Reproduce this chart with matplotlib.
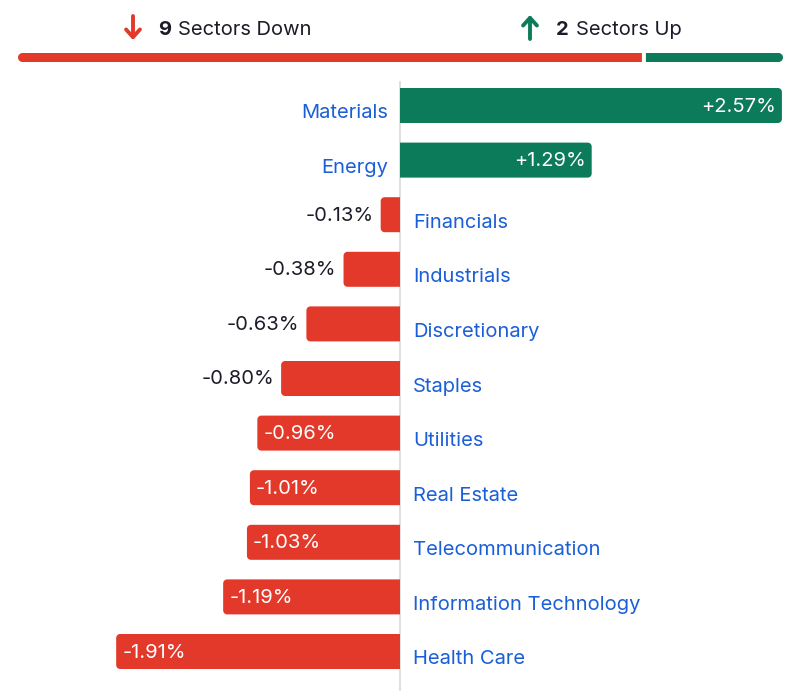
import matplotlib
matplotlib.use("Agg")
import numpy as np
import matplotlib.pyplot as plt
from matplotlib.patches import PathPatch
from matplotlib.path import Path

plt.rcParams['font.family'] = ['Inter', 'DejaVu Sans']

sectors = ["Materials", "Energy", "Financials", "Industrials", "Discretionary",
           "Staples", "Utilities", "Real Estate", "Telecommunication",
           "Information Technology", "Health Care"]
changes = [2.57, 1.29, -0.13, -0.38, -0.63, -0.80, -0.96, -1.01, -1.03, -1.19, -1.91]
n_down = sum(1 for v in changes if v < 0)
n_up = sum(1 for v in changes if v > 0)

RED = "#e3392a"
GREEN = "#0b7b5a"
BLUE = "#1b5fd8"
DARK = "#1c1c28"
W, H = 803, 694
DPI = 100
FS = 14.5


def rounded_path(x0, x1, y0, y1, rx, ry, round_left, round_right):
    """Rectangle path with optional rounded corners on left/right ends.
    rx, ry are the corner radius expressed in data units along x and y."""
    verts = []
    if round_left:
        cx, cy = x0 + rx, y0 + ry
        a = np.linspace(np.pi, 1.5 * np.pi, 10)
        verts += list(zip(cx + rx * np.cos(a), cy + ry * np.sin(a)))
    else:
        verts.append((x0, y0))
    if round_right:
        cx, cy = x1 - rx, y0 + ry
        a = np.linspace(1.5 * np.pi, 2 * np.pi, 10)
        verts += list(zip(cx + rx * np.cos(a), cy + ry * np.sin(a)))
        cx, cy = x1 - rx, y1 - ry
        a = np.linspace(0, 0.5 * np.pi, 10)
        verts += list(zip(cx + rx * np.cos(a), cy + ry * np.sin(a)))
    else:
        verts.append((x1, y0))
        verts.append((x1, y1))
    if round_left:
        cx, cy = x0 + rx, y1 - ry
        a = np.linspace(0.5 * np.pi, np.pi, 10)
        verts += list(zip(cx + rx * np.cos(a), cy + ry * np.sin(a)))
    else:
        verts.append((x0, y1))
    verts.append(verts[0])
    codes = [Path.MOVETO] + [Path.LINETO] * (len(verts) - 2) + [Path.CLOSEPOLY]
    return Path(verts, codes)


fig = plt.figure(figsize=(W / DPI, H / DPI), dpi=DPI)
fig.patch.set_facecolor("white")

x0_px, ppu = 400, 148.6
row0_px, row_px = 105.5, 54.6
ax = fig.add_axes([0, 0, 1, 1])
ax.set_xlim(-x0_px / ppu, (W - x0_px) / ppu)
ax.set_ylim((H - row0_px) / row_px, -row0_px / row_px)
ax.axis("off")

xpu = 1 / ppu
ypu = 1 / row_px
bh = 35 / row_px
rad = 4

ypos = list(range(len(sectors)))
bars = ax.barh(ypos, changes, height=bh, color="none", edgecolor="none")

for b, v, name in zip(bars, changes, sectors):
    x, y, w, h = b.get_x(), b.get_y(), b.get_width(), b.get_height()
    xa, xb = min(x, x + w), max(x, x + w)
    col = GREEN if v > 0 else RED
    path = rounded_path(xa, xb, y, y + h, rad * xpu, rad * ypu,
                        round_left=(v < 0), round_right=(v > 0))
    ax.add_patch(PathPatch(path, fc=col, ec="none", zorder=2))
    yc = y + h / 2
    lbl = f"{v:+.2f}%"
    if v > 0:
        ax.text(v - 6 * xpu, yc + 1 * ypu, lbl, ha="right", va="center",
                color="white", fontsize=FS, zorder=3)
        ax.text(-12 * xpu, yc + 8 * ypu, name, ha="right", va="center",
                color=BLUE, fontsize=FS, zorder=3)
    else:
        if abs(v) * ppu > 130:
            ax.text(v + 6 * xpu, yc + 1 * ypu, lbl, ha="left", va="center",
                    color="white", fontsize=FS, zorder=3)
        else:
            ax.text(v - 7 * xpu, yc + 1 * ypu, lbl, ha="right", va="center",
                    color=DARK, fontsize=FS, zorder=3)
        ax.text(13 * xpu, yc + 8 * ypu, name, ha="left", va="center",
                color=BLUE, fontsize=FS, zorder=3)

ax.plot([0, 0], [(82 - row0_px) / row_px, (690 - row0_px) / row_px],
        color="#d9d9d9", lw=1.2, zorder=1)

# header proportion bar
hx0, hx1, hy0, hy1 = 18, 783, 53, 62
hax = fig.add_axes([hx0 / W, 1 - hy1 / H, (hx1 - hx0) / W, (hy1 - hy0) / H])
total = n_down + n_up
hax.set_xlim(0, total)
hax.set_ylim(0, 1)
hax.axis("off")
hx_pu = total / (hx1 - hx0)
hy_pu = 1 / (hy1 - hy0)
gap = 2 * hx_pu
r2 = 4.5
hb = hax.barh([0.5, 0.5], [n_down - gap, n_up - gap], left=[0, n_down + gap],
              height=1, color="none")
for b, col, left in zip(hb, [RED, GREEN], [True, False]):
    x, y, w, h = b.get_x(), b.get_y(), b.get_width(), b.get_height()
    path = rounded_path(x, x + w, y, y + h, r2 * hx_pu, r2 * hy_pu,
                        round_left=left, round_right=not left)
    hax.add_patch(PathPatch(path, fc=col, ec="none", clip_on=False))


def px(xp, yp):
    return xp / W, 1 - yp / H


arrow_style = "->,head_length=0.55,head_width=0.5"
ax.annotate("", xy=px(133, 40), xytext=px(133, 16), xycoords="figure fraction",
            textcoords="figure fraction",
            arrowprops=dict(arrowstyle=arrow_style, color=RED, lw=2.8,
                            shrinkA=0, shrinkB=0))
ax.annotate("", xy=px(530, 15), xytext=px(530, 39), xycoords="figure fraction",
            textcoords="figure fraction",
            arrowprops=dict(arrowstyle=arrow_style, color=GREEN, lw=2.8,
                            shrinkA=0, shrinkB=0))

renderer = fig.canvas.get_renderer()


def two_part(xp, yp, bold, rest):
    t1 = fig.text(*px(xp, yp), bold, ha="left", va="center", fontsize=FS,
                  fontweight="bold", color=DARK)
    bb = t1.get_window_extent(renderer)
    fig.text(bb.x1 / W + 7 / W, 1 - yp / H, rest, ha="left", va="center",
             fontsize=FS, color=DARK)


two_part(158, 30, str(n_down), "Sectors Down")
two_part(556, 30, str(n_up), "Sectors Up")

fig.savefig("out.png", dpi=DPI, facecolor="white")
